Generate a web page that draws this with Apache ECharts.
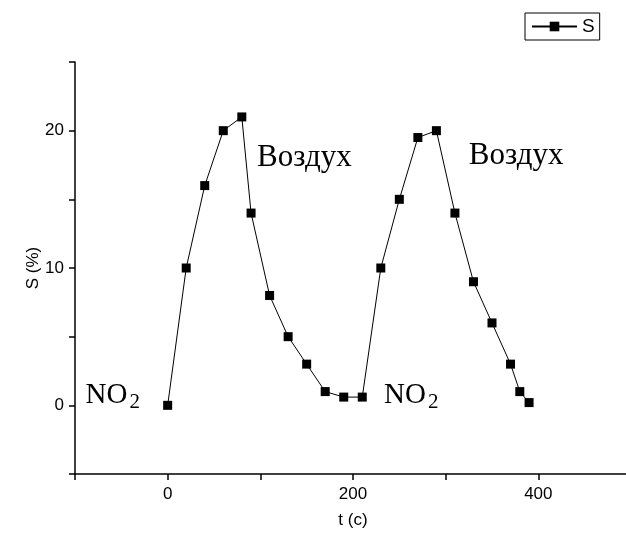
<!DOCTYPE html>
<html>
<head>
<meta charset="utf-8">
<script src="https://cdn.jsdelivr.net/npm/echarts@6/dist/echarts.min.js"></script>
<style>html,body{margin:0;padding:0;background:#fff}#c{width:626px;height:535px}</style>
</head>
<body>
<div id="c"></div>
<script>
// Data
const tValues = [0, 20, 40, 60, 80, 90, 110, 130, 150, 170, 190, 210, 230, 250, 270, 290, 310, 330, 350, 370, 380, 390];
const sValues = [0, 10, 16, 20, 21, 14, 8, 5, 3, 1, 0.6, 0.6, 10, 15, 19.5, 20, 14, 9, 6, 3, 1, 0.2];
const xTickLabels = [0, 200, 400];
const yTickLabels = [0, 10, 20];
const airLabels = [[96.5, 18.0], [325, 18.15]];
const no2Labels = [[-88.6, 0.73], [233.5, 0.73]];

const chart = echarts.init(document.getElementById('c'));
const black = '#000';
const option = {
  backgroundColor: '#fff',
  animation: false,
  grid: { left: 75, width: 556, top: 62, bottom: 61, containLabel: false, outerBoundsMode: 'none' },
  legend: {
    data: ['S'],
    left: 525, top: 13,
    padding: [4, 5, 4, 6],
    borderColor: black, borderWidth: 1,
    itemWidth: 45, itemHeight: 12, itemGap: 5,
    textStyle: { fontFamily: 'Liberation Sans, Arial, sans-serif', fontSize: 19, color: black }
  },
  xAxis: {
    type: 'value', min: -100, max: 500, interval: 100,
    name: 't (c)', nameLocation: 'middle', nameGap: 38, nameMoveOverlap: false,
    nameTextStyle: { fontFamily: 'Liberation Sans, Arial, sans-serif', fontSize: 17, color: black },
    axisLine: { show: true, onZero: false, lineStyle: { color: black, width: 1.5 } },
    axisTick: { show: true, inside: false, length: 6, lineStyle: { color: black, width: 1.5 } },
    axisLabel: {
      margin: 12, color: black, fontFamily: 'Liberation Sans, Arial, sans-serif', fontSize: 17,
      formatter: v => xTickLabels.includes(v) ? String(v) : ''
    },
    splitLine: { show: false }
  },
  yAxis: {
    type: 'value', min: -5, max: 25, interval: 5,
    name: 'S (%)', nameLocation: 'middle', nameGap: 33, nameMoveOverlap: false,
    nameTextStyle: { fontFamily: 'Liberation Sans, Arial, sans-serif', fontSize: 17, color: black },
    axisLine: { show: true, onZero: false, lineStyle: { color: black, width: 1.5 } },
    axisTick: { show: true, inside: false, length: 6, lineStyle: { color: black, width: 1.5 } },
    axisLabel: {
      margin: 11, color: black, fontFamily: 'Liberation Sans, Arial, sans-serif', fontSize: 17,
      formatter: v => yTickLabels.includes(v) ? String(v) : ''
    },
    splitLine: { show: false }
  },
  series: [{
    name: 'S', type: 'line',
    data: tValues.map((t, i) => [t, sValues[i]]),
    symbol: 'rect', symbolSize: 9,
    itemStyle: { color: black },
    lineStyle: { color: black, width: 1 }
  }]
};
chart.setOption(option);

const serif = 'Liberation Serif, Times New Roman, serif';
const graphics = [];
airLabels.forEach(p => {
  const [x, y] = chart.convertToPixel({ gridIndex: 0 }, p);
  graphics.push({ type: 'text', x: x, y: y, style: { text: 'Воздух', font: '31px ' + serif, fill: black, align: 'left', verticalAlign: 'middle' } });
});
no2Labels.forEach(p => {
  const [x, y] = chart.convertToPixel({ gridIndex: 0 }, p);
  graphics.push({ type: 'text', x: x, y: y, style: { text: 'NO', font: '29px ' + serif, fill: black, align: 'left', verticalAlign: 'middle' } });
  graphics.push({ type: 'text', x: x + 44, y: y + 7, style: { text: '2', font: '21px ' + serif, fill: black, align: 'left', verticalAlign: 'middle' } });
});
chart.setOption({ graphic: graphics });
</script>
</body>
</html>
